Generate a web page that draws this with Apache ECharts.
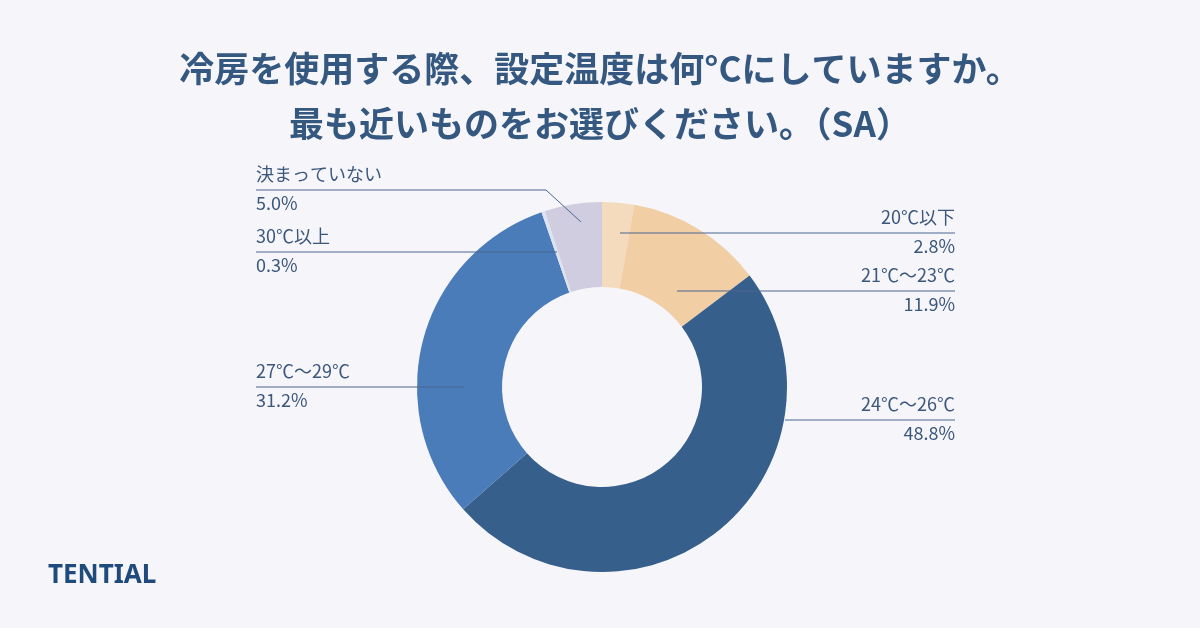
<!DOCTYPE html>
<html>
<head>
<meta charset="utf-8">
<script src="https://cdn.jsdelivr.net/npm/echarts@6/dist/echarts.min.js"></script>
<style>
html,body{margin:0;padding:0;background:#f6f5fa;}
#main{width:1200px;height:628px;}
</style>
</head>
<body>
<div id="main"></div>
<script>
// ---- data ----
const titleLines = ['冷房を使用する際、設定温度は何°Cにしていますか。', '最も近いものをお選びください。（SA）'];
const categories = ['20℃以下', '21℃～23℃', '24℃～26℃', '27℃～29℃', '30℃以上', '決まっていない'];
const values = [2.8, 11.9, 48.8, 31.2, 0.3, 5.0];
const brand = 'TENTIAL';

// ---- style ----
const colors = ['#f5dbbd', '#f1cea3', '#365f8b', '#4a7cb9', '#dde4f1', '#cfcddf'];
// label anchors (layout only): side, line y, start point, bend point
const anchors = [
  { side: 'right', y: 233, s: [620, 233] },
  { side: 'right', y: 291, s: [677, 291] },
  { side: 'right', y: 420, s: [785, 420] },
  { side: 'left',  y: 387, s: [464, 387] },
  { side: 'left',  y: 252, s: [557, 252] },
  { side: 'left',  y: 190, s: [581, 222], m: [546, 190] }
];
const leftEdge = 256, rightEdge = 955;
const textColor = '#3b577b';
const pieCenter = [602, 387];
const pieRadius = [100, 185];

const pieData = categories.map((c, i) => ({ name: c, value: values[i] }));

const chart = echarts.init(document.getElementById('main'), null, { renderer: 'canvas' });
chart.setOption({
  backgroundColor: '#f6f5fa',
  animation: false,
  title: {
    text: titleLines.join('\n'),
    left: 'center',
    top: 36,
    textStyle: {
      fontFamily: '"Noto Sans CJK JP", sans-serif',
      fontSize: 35,
      fontWeight: 'bold',
      color: '#34587f',
      lineHeight: 55
    }
  },
  graphic: [{
    type: 'text',
    left: 48,
    top: 563,
    style: {
      text: brand,
      font: 'bold 26px "Noto Sans", sans-serif',
      fill: '#1f4b7c'
    }
  }],
  series: [{
    type: 'pie',
    z: 2,
    center: pieCenter,
    radius: pieRadius,
    startAngle: 90,
    clockwise: true,
    minAngle: 0,
    silent: true,
    label: { show: false },
    labelLine: { show: false },
    data: pieData.map((d, i) => ({ name: d.name, value: d.value, itemStyle: { color: colors[i] } }))
  }, {
    type: 'pie',
    z: 3,
    center: pieCenter,
    radius: pieRadius,
    startAngle: 90,
    clockwise: true,
    avoidLabelOverlap: false,
    minAngle: 0,
    silent: true,
    itemStyle: { color: 'rgba(0,0,0,0)' },
    data: pieData,
    label: {
      show: true,
      position: 'outside',
      formatter: p => '{n|' + p.name + '}\n{v|' + p.value.toFixed(1) + '%}',
      rich: {
        n: { fontSize: 18, color: textColor, lineHeight: 29, fontFamily: '"Noto Sans CJK JP", sans-serif' },
        v: { fontSize: 18, color: textColor, lineHeight: 29, fontFamily: '"Noto Sans CJK JP", sans-serif' }
      }
    },
    labelLine: {
      show: true,
      length: 10,
      length2: 10,
      smooth: false,
      lineStyle: { color: '#4a6790', width: 1 }
    },
    labelLayout: function (params) {
      const a = anchors[params.dataIndex];
      const ex = a.side === 'right' ? rightEdge : leftEdge;
      const mid = a.m || a.s;
      return {
        x: ex,
        y: a.y - 1,
        align: a.side,
        verticalAlign: 'middle',
        labelLinePoints: [a.s, mid, [ex, a.y]]
      };
    }
  }]
});
</script>
</body>
</html>
